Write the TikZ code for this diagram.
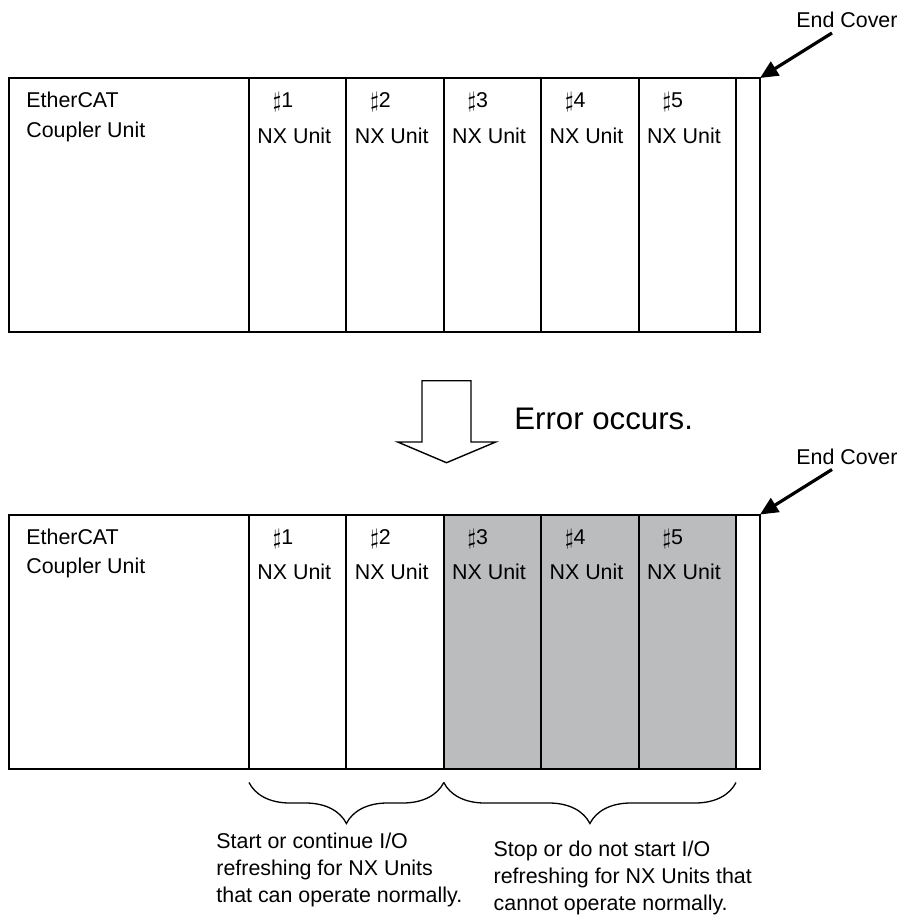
\documentclass[tikz,border=0pt]{standalone}
\usepackage{fontspec}
\setmainfont{Liberation Sans}
\usetikzlibrary{
  arrows.meta,
  calc,
  positioning,
  decorations.pathreplacing
}
\definecolor{haltgray}{RGB}{187,188,190}
\tikzset{
  >=stealth,
  line join=miter,
  unitbox/.style={draw, line width=1pt, inner sep=0pt, outer sep=0pt, anchor=north west, minimum height=127pt},
  nxbox/.style={unitbox, minimum width=48.7pt},
  txt/.style={inner sep=0pt, anchor=base west, align=left, font=\fontsize{10.7}{14.5}\selectfont},
  note/.style={txt, font=\fontsize{10.7}{13.5}\selectfont},
  pointer/.style={-{Triangle[length=9pt,width=8pt]}, line width=1.6pt},
  bracedown/.style={decorate, decoration={brace, mirror, amplitude=20.5pt}, line width=0.65pt},
  bigarrow/.style={draw, line width=0.7pt, fill=white}
}

\begin{document}
\begin{tikzpicture}[x=0.5pt, y=-0.5pt]
    \useasboundingbox (0,0) rectangle (901,915);
    % two racks: before and after the error
    \foreach \r/\y/\g in {t/78/white, b/514.5/haltgray} {
      \node[unitbox, minimum width=120pt] (\r0) at (9,\y) {};
      % base of a multi-line node = last line
      \node[txt] at ($(\r0.north west)+(17,59)$) {EtherCAT\\Coupler Unit};
      \foreach \i in {1,...,5} {
        \ifnum\i>2 \def\shade{\g}\else\def\shade{white}\fi
        \node[nxbox, fill=\shade] (\r\i) at ({249+97.4*(\i-1)},\y) {};
        \node[txt] at ($(\r\i.north west)+(23.5,30)$) {$\sharp$\i};
        \node[txt] at ($(\r\i.north west)+(8,65)$) {NX Unit};
      }
      \node[unitbox, minimum width=12pt] (\r e) at (736,\y) {};
      \node[txt] (\r c) at (796,\y-50) {End Cover};
      \coordinate (\r s) at ($(\r c.base west)+(36,5)$);
      \draw[pointer] (\r s) -- (\r e.north east);
    }
    % hollow arrow
    \draw[bigarrow] (422,380.7) -- (471,380.7) -- (471,442) -- (495.7,442)
      -- (446.5,462.7) -- (397.7,442) -- (422,442) -- cycle;
    \node[txt, font=\fontsize{15.6}{18}\selectfont] (err) at (514,429) {Error occurs.};
    % braces and notes
    \draw[bracedown] ($(b1.south west)+(0,14)$) -- ($(b3.south west)+(0,14)$);
    \draw[bracedown] ($(b3.south west)+(0,14)$) -- ($(b5.south east)+(0,14)$);
    \node[note] (ok) at (216,902.3) {Start or continue I/O\\refreshing for NX Units\\that can operate normally.};
    \node[note] (ng) at (493.3,910) {Stop or do not start I/O\\refreshing for NX Units that\\cannot operate normally.};
  \end{tikzpicture}
\end{document}
